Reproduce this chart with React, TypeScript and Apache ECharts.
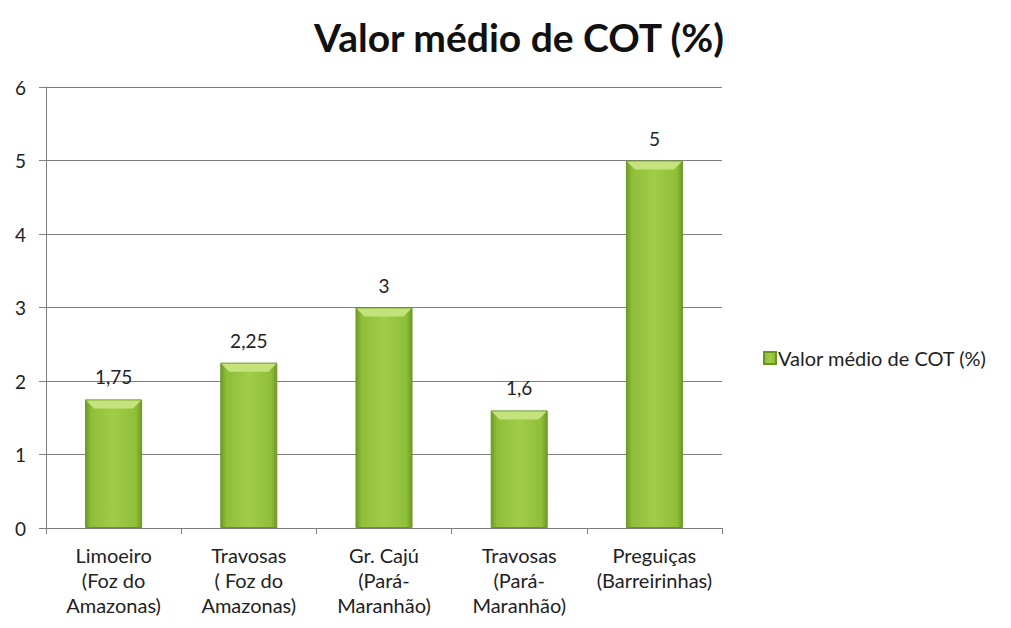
import React, { useEffect, useRef } from "react";
import * as echarts from "echarts";

const categories = [
  "Limoeiro\n(Foz do\nAmazonas)",
  "Travosas\n( Foz do\nAmazonas)",
  "Gr. Cajú\n(Pará-\nMaranhão)",
  "Travosas\n(Pará-\nMaranhão)",
  "Preguiças\n(Barreirinhas)",
];
const values = [1.75, 2.25, 3, 1.6, 5];
const seriesName = "Valor médio de COT (%)";
const titleText = "Valor médio de COT (%)";

const FONT = "Lato, 'Open Sans', sans-serif";
const BAR_W = 57;

export default function App() {
  const ref = useRef<HTMLDivElement>(null);
  useEffect(() => {
    document.body.style.margin = "0";
    if (!ref.current) return;
    const chart = echarts.init(ref.current, undefined, { renderer: "svg" });
    const barGradient = new echarts.graphic.LinearGradient(0, 0, 1, 0, [
      { offset: 0, color: "#6e9a25" },
      { offset: 0.1, color: "#8fbe38" },
      { offset: 0.5, color: "#a0cd48" },
      { offset: 0.9, color: "#8fbe38" },
      { offset: 1, color: "#6e9a25" },
    ]);
    chart.setOption({
      animation: false,
      backgroundColor: "#ffffff",
      textStyle: { fontFamily: FONT },
      title: {
        text: titleText,
        left: 514,
        top: 12,
        textAlign: "center",
        textStyle: { fontFamily: FONT, fontSize: 39, fontWeight: "bold", color: "#111" },
      },
      legend: {
        orient: "vertical",
        left: 758,
        top: 343,
        itemWidth: 12,
        itemHeight: 12,
        itemGap: 4,
        textStyle: { fontFamily: FONT, fontSize: 20, color: "#222", padding: [0, 0, 0, -3] },
        data: [{ name: seriesName, icon: "rect" }],
      },
      grid: { left: 46, right: 289, top: 87, bottom: 100, containLabel: false },
      xAxis: {
        type: "category",
        data: categories,
        boundaryGap: true,
        axisLine: { lineStyle: { color: "#7f7f7f", width: 1 } },
        axisTick: { show: true, length: 6, lineStyle: { color: "#7f7f7f" } },
        axisLabel: {
          interval: 0,
          margin: 14,
          fontFamily: FONT,
          fontSize: 20,
          lineHeight: 25,
          color: "#222",
        },
      },
      yAxis: {
        type: "value",
        min: 0,
        max: 6,
        interval: 1,
        axisLine: { show: true, lineStyle: { color: "#7f7f7f", width: 1 } },
        axisTick: { show: true, length: 7, lineStyle: { color: "#7f7f7f" } },
        splitLine: { show: true, lineStyle: { color: "#7f7f7f", width: 1 } },
        axisLabel: { margin: 20, fontFamily: FONT, fontSize: 19, color: "#222" },
      },
      series: [
        {
          name: seriesName,
          type: "bar",
          data: values,
          barWidth: BAR_W,
          itemStyle: { color: barGradient, borderColor: "#6a9522", borderWidth: 1 },
          label: {
            show: true,
            position: "top",
            distance: 13,
            fontFamily: FONT,
            fontSize: 19,
            color: "#222",
            formatter: (p: any) => String(p.value).replace(".", ","),
          },
        },
        {
          name: "bevel",
          type: "custom",
          silent: true,
          z: 3,
          data: values.map((v, i) => [i, v]),
          renderItem: (params: any, api: any) => {
            const pt = api.coord([api.value(0), api.value(1)]);
            const half = BAR_W / 2;
            const x0 = pt[0] - half + 1;
            const x1 = pt[0] + half - 1;
            const y = pt[1] + 1;
            const d = 8;
            return {
              type: "polygon",
              shape: { points: [[x0, y], [x1, y], [x1 - d, y + d], [x0 + d, y + d]] },
              style: { fill: "#c4e37c" },
            };
          },
        },
      ],
    });
    return () => chart.dispose();
  }, []);
  return <div ref={ref} style={{ width: 1011, height: 628 }} />;
}
